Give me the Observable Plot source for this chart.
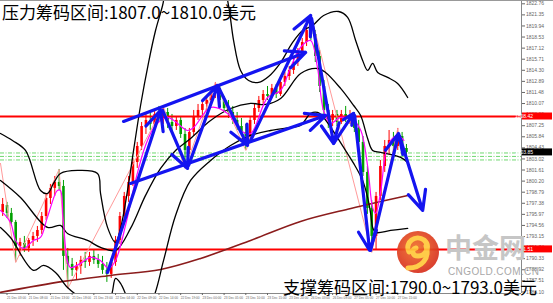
<!DOCTYPE html>
<html><head><meta charset="utf-8">
<script src="https://cdn.jsdelivr.net/npm/d3@7"></script>
<script src="https://cdn.jsdelivr.net/npm/@observablehq/plot@0.6"></script>
<style>
html,body{margin:0;padding:0;background:#fff;}
#wrap{position:relative;width:553px;height:303px;overflow:hidden;}
.t{position:absolute;font-family:"Noto Sans CJK SC","Noto Sans",sans-serif;white-space:nowrap;}
#title{left:2px;top:3px;font-size:17px;line-height:18px;color:#000;}
#sub{left:283px;top:278px;font-size:17px;line-height:18px;color:#000;}
#wm1{left:445px;top:232px;font-size:27px;line-height:30px;font-weight:bold;color:#c6c6c6;}
#wm2{left:448px;top:266px;font-family:Arial,"Liberation Sans",sans-serif;font-size:10px;line-height:11px;color:#a8a8a8;letter-spacing:0.4px;}
</style></head><body>
<div id="wrap"><div id="chart"></div>
<div class="t" id="wm1">中金网</div>
<div class="t" id="wm2">CNGOLD.COM.CN</div>
<div class="t" id="title">压力筹码区间:1807.0~1810.0美元</div>
<div class="t" id="sub">支撑筹码区间:1790.0~1793.0美元</div></div>
<script>
// ---- candles (price, USD) ----
const open=[1796.21,1797.10,1796.09,1794.94,1791.89,1792.27,1791.63,1792.65,1793.16,1793.92,1795.70,1797.99,1799.27,1800.03,1799.52,1790.62,1789.60,1788.84,1789.35,1790.11,1789.85,1790.62,1790.11,1789.60,1788.84,1788.33,1789.85,1792.65,1795.70,1798.25,1800.03,1802.57,1804.61,1807.15,1807.92,1807.41,1808.68,1808.17,1808.93,1807.66,1807.15,1807.92,1806.13,1804.10,1806.39,1808.42,1809.19,1809.95,1810.46,1811.48,1811.99,1810.46,1809.44,1808.93,1807.92,1807.15,1806.39,1805.88,1807.92,1809.44,1810.46,1811.22,1810.97,1811.99,1811.22,1812.75,1813.51,1814.28,1815.29,1816.57,1817.84,1819.36,1818.86,1816.06,1812.24,1809.19,1807.92,1808.68,1807.66,1808.68,1808.17,1808.42,1806.90,1805.12,1801.30,1796.72,1793.16,1798.25,1802.06,1804.61,1805.37,1804.61,1805.88,1804.35];
const high=[1797.99,1797.49,1796.72,1795.20,1792.91,1793.16,1792.91,1793.67,1794.43,1796.21,1798.63,1799.78,1800.79,1801.68,1800.28,1791.63,1790.36,1789.85,1790.62,1791.13,1791.13,1791.38,1790.87,1790.62,1789.85,1790.36,1793.16,1796.21,1798.76,1800.79,1803.08,1805.12,1807.66,1808.68,1808.93,1809.19,1809.70,1809.70,1809.44,1808.68,1808.42,1808.42,1806.90,1806.90,1809.19,1809.95,1810.46,1810.97,1811.99,1812.75,1812.50,1810.97,1810.46,1809.70,1808.93,1808.17,1807.41,1808.42,1809.95,1810.97,1811.73,1812.24,1812.50,1812.50,1813.26,1814.02,1814.78,1815.80,1817.07,1818.35,1820.89,1821.27,1819.36,1816.82,1813.00,1809.95,1809.19,1809.19,1809.19,1809.70,1809.19,1808.93,1807.92,1805.88,1802.06,1797.74,1798.76,1802.83,1805.37,1806.64,1806.39,1806.90,1806.39,1804.86];
const low=[1795.70,1795.45,1794.43,1789.85,1790.62,1791.13,1791.13,1791.89,1792.40,1793.42,1795.20,1797.23,1798.25,1799.01,1788.84,1786.55,1788.07,1787.56,1788.33,1789.09,1789.35,1789.60,1789.09,1788.33,1787.31,1787.82,1789.35,1792.14,1795.20,1797.49,1799.52,1801.81,1804.10,1806.13,1806.64,1806.90,1807.66,1807.41,1806.90,1806.39,1806.64,1805.63,1801.81,1803.59,1805.88,1807.92,1808.42,1809.19,1809.95,1810.71,1809.95,1808.93,1808.17,1807.41,1806.64,1805.88,1804.10,1805.37,1807.41,1808.93,1809.95,1810.46,1810.71,1810.71,1810.97,1812.24,1813.00,1813.77,1814.78,1816.06,1817.33,1818.09,1815.29,1811.48,1808.17,1806.90,1807.15,1807.15,1807.41,1807.66,1807.41,1806.39,1804.35,1800.79,1795.96,1791.13,1791.38,1797.74,1801.30,1803.59,1803.85,1804.10,1803.34,1802.57];
const close=[1797.23,1796.09,1794.94,1791.89,1792.40,1791.63,1792.65,1793.16,1793.92,1795.70,1797.99,1799.27,1800.03,1799.52,1790.62,1789.60,1788.84,1789.35,1790.11,1789.85,1790.62,1790.11,1789.60,1788.84,1788.33,1789.85,1792.65,1795.70,1798.25,1800.03,1802.57,1804.61,1807.15,1807.92,1807.41,1808.68,1808.17,1808.93,1807.66,1807.15,1807.92,1806.13,1804.10,1806.39,1808.42,1809.19,1809.95,1810.46,1811.48,1811.99,1810.46,1809.44,1808.93,1807.92,1807.15,1806.39,1805.88,1807.92,1809.44,1810.46,1811.22,1810.97,1811.99,1811.22,1812.75,1813.51,1814.28,1815.29,1816.57,1817.84,1819.36,1818.86,1816.06,1812.24,1809.19,1807.92,1808.68,1807.66,1808.68,1808.17,1808.42,1806.90,1805.12,1801.30,1796.72,1793.16,1798.25,1802.06,1804.61,1805.37,1804.61,1805.88,1804.35,1803.85];

// ---- indicator lines (bar index, price) ----
const bandUpX=[-0.5,2.26,5.26,8.72,10.33,11.71,13.32,17.24,21.85,22.54,24.15,26.0,27.15,28.76,30.15,31.76,33.6,35.21,36.83,38.67,45.58,50.65,52.03,53.19,54.8,56.64,58.95,61.25,64.02,66.78,69.09,71.39,73.92,77.38,79.45,81.3,82.91,84.06,85.21,86.37,88.67,90.97,93.28];
const bandUpY=[1806.26,1805.37,1804.10,1799.01,1798.63,1799.90,1801.17,1801.56,1801.17,1798.63,1794.31,1792.40,1794.18,1799.01,1804.10,1809.82,1815.29,1819.36,1822.54,1827.00,1830.81,1825.72,1822.54,1818.09,1814.28,1813.00,1812.75,1813.51,1815.29,1817.84,1819.36,1820.00,1821.27,1821.78,1821.02,1818.09,1815.55,1814.28,1815.17,1814.02,1813.39,1812.62,1810.84];
const bandMidX=[-0.5,4.11,10.33,13.32,14.94,19.55,22.54,26.0,29.45,32.91,36.37,39.82,43.28,47.89,52.49,57.1,60.56,64.02,68.63,72.54,74.38,77.84,80.84,82.45,84.06,85.21,87.06,91.67,93.28];
const bandMidY=[1800.28,1798.12,1794.31,1794.56,1793.54,1792.65,1791.76,1791.38,1794.18,1798.38,1801.81,1804.10,1805.63,1807.92,1809.44,1810.08,1809.95,1810.71,1813.89,1814.53,1814.02,1811.99,1809.82,1808.55,1805.63,1804.10,1803.85,1803.21,1802.57];
const bandLowX=[-0.5,1.8,7.1,9.41,12.17,14.94,19.09,22.54,24.85,26.0,27.15,28.99,31.76,34.75,37.06,39.82,43.28,47.89,52.49,57.1,61.71,66.32,68.63,70.93,72.54,73.92,78.53,80.84,82.91,84.06,84.75,85.21,85.91,89.36,93.28];
const bandLowY=[1794.31,1793.03,1788.84,1789.47,1788.58,1786.67,1785.02,1784.38,1785.40,1787.82,1787.18,1785.02,1782.48,1785.40,1790.11,1795.83,1800.28,1802.83,1804.74,1806.01,1806.64,1807.03,1807.28,1808.81,1808.93,1808.30,1804.48,1802.45,1800.28,1798.12,1796.09,1794.31,1793.67,1793.92,1794.18];
const maFastX=[-0.5,1.8,3.0,4.8,7.1,8.7,10.3,12.6,13.3,14.0,15.6,17.9,20.2,22.5,24.4,26.0,28.3,30.6,32.9,35.2,38.0,42.6,44.0,47.9,51.8,54.8,57.1,61.0,64.0,66.3,68.6,70.9,72.5,73.9,75.5,77.8,80.8,82.5,84.1,85.2,85.9,87.1,88.2,89.4,91.0,92.4];
const maFastY=[1796.47,1794.94,1792.65,1791.63,1792.65,1793.03,1795.58,1799.01,1799.01,1794.81,1789.22,1789.73,1790.49,1790.11,1789.09,1790.11,1794.56,1800.28,1804.74,1807.28,1808.30,1806.64,1807.03,1809.57,1808.81,1806.64,1806.26,1810.84,1811.73,1814.66,1817.20,1818.09,1814.66,1809.19,1807.53,1808.30,1807.92,1806.64,1801.94,1796.85,1796.09,1799.01,1803.72,1805.37,1806.01,1805.37];
const maSlowX=[-0.5,14.0,24.8,36.4,45.6,57.1,68.6,80.2,93.3];
const maSlowY=[1786.04,1787.44,1788.20,1788.96,1790.36,1792.65,1795.07,1796.72,1798.38];
const zigX=[-0.5,3,13,15,37,42,49,56,71,85,91];
const zigY=[1802.45,1789.85,1801.68,1786.55,1809.70,1801.81,1812.75,1804.10,1821.27,1791.13,1806.90];

// ---- levels ----
const resistance=[1808.42];
const support=[1791.51];
const greenLevels=[1803.78,1803.34,1802.89];
const bidPrice=1803.85;

// ---- blue annotation arrows (bar index, price) ----
const arrX1=[27.84,29.45,24.15,36.83,42.82,49.73,57.10,71.16,76.23,81.07,84.75,91.43];
const arrY1=[1807.79,1799.90,1788.58,1809.19,1802.19,1812.11,1805.37,1820.89,1804.99,1808.55,1791.38,1805.88];
const arrX2=[69.78,74.38,36.37,42.59,49.50,56.41,70.93,76.23,80.84,84.52,91.20,96.74];
const arrY2=[1816.57,1808.55,1809.19,1801.81,1812.37,1804.74,1821.27,1804.99,1808.81,1791.38,1806.26,1796.47];

// ---- axis ticks ----
const yTicks=[1822.76,1821.35,1819.94,1818.53,1817.12,1815.71,1814.30,1812.89,1811.48,1810.07,1808.66,1807.25,1805.84,1804.43,1803.02,1801.61,1800.20,1798.79,1797.38,1795.97,1794.56,1793.15,1791.74,1790.33,1788.92,1787.51,1786.10];
const xTickIdx=[1,6,11,16,21,26,31,36,41,46,51,56,61,66,71,76,81,86,91];
const xLabels=["21 Dec 03:00","21 Dec 08:00","21 Dec 13:00","21 Dec 18:00","21 Dec 23:00","22 Dec 04:00","22 Dec 09:00","22 Dec 14:00","22 Dec 19:00","23 Dec 00:00","23 Dec 05:00","23 Dec 10:00","23 Dec 15:00","23 Dec 20:00","26 Dec 03:00","26 Dec 08:00","27 Dec 05:00","27 Dec 10:00","27 Dec 15:00"];

const bars=open.map((o,i)=>({i,o,h:high[i],l:low[i],c:close[i],up:close[i]>=o}));
const pts=(X,Y)=>X.map((x,k)=>({x,y:Y[k]}));
const arrows=arrX1.map((x,k)=>({x1:x,y1:arrY1[k],x2:arrX2[k],y2:arrY2[k]}));
const RED="#ff0000", GREEN="#00a000", BLUE="#1414f0";

const plot=Plot.plot({
  width:553,height:303,marginLeft:0,marginRight:32,marginTop:0,marginBottom:10,
  x:{domain:[-0.5,119.5]},
  y:{domain:[1785.9,1823.18]},
  style:{background:"#fff",fontFamily:"Arial, 'Liberation Sans', sans-serif"},
  marks:[
    Plot.ruleY(greenLevels,{stroke:"#70d870",strokeWidth:1,strokeDasharray:"4,1.5,1,1.5"}),
    Plot.ruleX(bars,{x:"i",y1:"l",y2:"h",stroke:d=>d.up?RED:GREEN,strokeWidth:1}),
    Plot.ruleX(bars,{x:"i",y1:"o",y2:"c",stroke:d=>d.up?RED:GREEN,strokeWidth:2.6}),
    Plot.ruleY(resistance,{stroke:RED,strokeWidth:2}),
    Plot.ruleY(support,{stroke:RED,strokeWidth:2}),
    Plot.line(pts(zigX,zigY),{x:"x",y:"y",stroke:"#ff9a9a",strokeWidth:1,clip:true}),
    Plot.line(pts(maSlowX,maSlowY),{x:"x",y:"y",stroke:"#8b1c1c",strokeWidth:1.6,curve:"catmull-rom",clip:true}),
    Plot.line(pts(bandUpX,bandUpY),{x:"x",y:"y",stroke:"#000",strokeWidth:1.3,curve:"catmull-rom",clip:true}),
    Plot.line(pts(bandMidX,bandMidY),{x:"x",y:"y",stroke:"#000",strokeWidth:1.3,curve:"catmull-rom",clip:true}),
    Plot.line(pts(bandLowX,bandLowY),{x:"x",y:"y",stroke:"#000",strokeWidth:1.3,curve:"catmull-rom",clip:true}),
    Plot.line(pts(maFastX,maFastY),{x:"x",y:"y",stroke:"#ff00ff",strokeWidth:1.2,curve:"catmull-rom",clip:true}),
    Plot.arrow(arrows,{x1:"x1",y1:"y1",x2:"x2",y2:"y2",stroke:BLUE,strokeWidth:3.2,headLength:10,headAngle:50}),
    Plot.ruleX([119.5],{stroke:"#888",strokeWidth:1}),
    Plot.ruleY([1785.9],{stroke:"#888",strokeWidth:1}),
    Plot.axisY(yTicks,{anchor:"right",tickSize:3,tickPadding:1.5,fontSize:5,color:"#666",tickFormat:d=>d.toFixed(2),label:null}),
    Plot.axisX(xTickIdx,{anchor:"bottom",tickSize:2,tickPadding:1,fontSize:3.2,color:"#666",textAnchor:"start",tickFormat:d=>xLabels[xTickIdx.indexOf(d)],label:null})
  ]
});
document.getElementById("chart").appendChild(plot);

// price-label boxes on the right axis, and decorations
const svg=d3.select(plot);
const ys=plot.scale("y");
function box(v,bg){
  const y=ys.apply(v);
  svg.append("rect").attr("x",522).attr("y",y-3.5).attr("width",30).attr("height",7).attr("fill",bg);
  svg.append("text").attr("x",524).attr("y",y+2).style("font-size","5px").attr("fill","#fff").style("font-family","Arial").text(v.toFixed(2));
}
box(resistance[0],RED); box(support[0],RED); box(bidPrice,"#000");
svg.append("line").attr("x1",0).attr("x2",553).attr("y1",0.5).attr("y2",0.5).attr("stroke","#999");
// watermark logo
const grad=svg.append("defs").append("radialGradient").attr("id","lg").attr("cx","45%").attr("cy","40%").attr("r","60%");
grad.append("stop").attr("offset","0%").attr("stop-color","#f0702a");
grad.append("stop").attr("offset","100%").attr("stop-color","#d8301e");
const wm=svg.append("g").attr("opacity",0.92);
wm.append("circle").attr("cx",418).attr("cy",252).attr("r",21).attr("fill","url(#lg)");
wm.append("path").attr("d","M409,252 C404,242 416,234 424,240 C431,246 426,256 418,256 C412,256 411,249 416,248").attr("fill","none").attr("stroke","#ffc83a").attr("stroke-width",5).attr("stroke-linecap","round");
wm.append("path").attr("d","M426,246 C430,258 422,268 408,268").attr("fill","none").attr("stroke","#ffc83a").attr("stroke-width",5).attr("stroke-linecap","round");
</script>
</body></html>
